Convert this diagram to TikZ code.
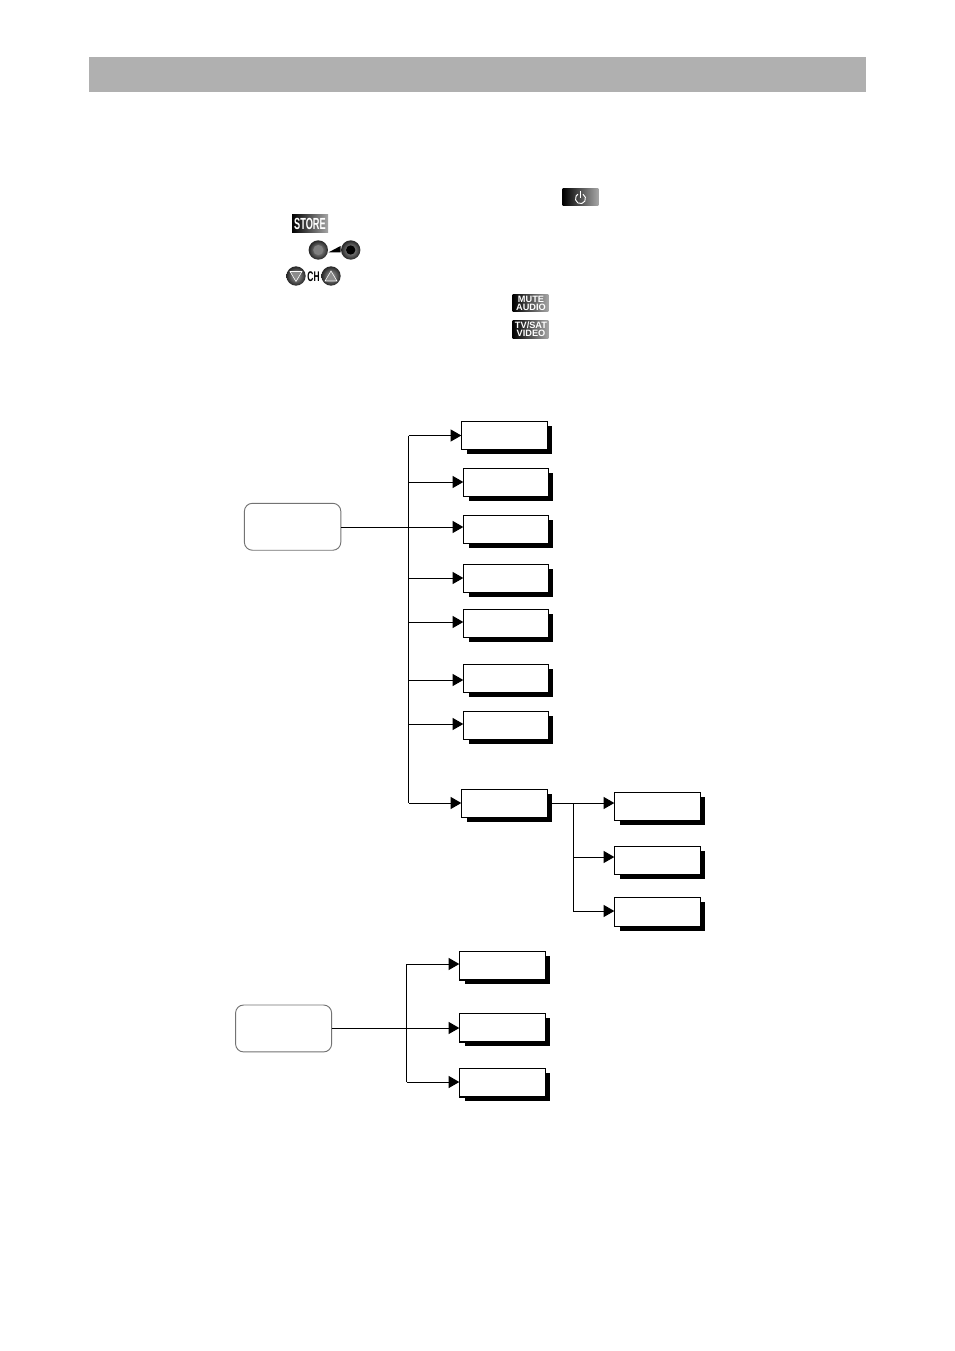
\documentclass[tikz,border=0pt]{standalone}
\usepackage{fontspec}
\setmainfont{Liberation Sans}
\usetikzlibrary{arrows.meta,shadings}
\definecolor{band}{HTML}{B0B0B0}
\tikzset{
  x=0.75pt,y=-0.75pt,
  conn/.style={line width=0.75pt,black},
  arr/.style={conn,-{Triangle[length=8pt,width=9pt]}},
  menubox/.style={draw=black,line width=0.85pt,fill=white,anchor=north west,inner sep=0pt,outer sep=0pt},
  rootbox/.style={draw=black!55,line width=0.7pt,fill=white,rounded corners=6pt,anchor=north west,inner sep=0pt,outer sep=0pt},
  keyicon/.style={left color=black,middle color=black!70,right color=black!35,draw=none,anchor=north west,inner sep=0pt,outer sep=0pt,text=white,font=\bfseries,align=center},
  icontext/.style={text=white,inner sep=0pt,align=center,font={\bfseries\fontsize{6.9}{6.2}\selectfont}},
  knob/.style={circle,inner color=black!35,outer color=black!85,draw=none,minimum size=14.5pt,inner sep=0pt},
}
% name, x1, y1, x2, y2 (reference pixels)
\newcommand{\menub}[5]{%
  \fill[black] (#2+5.5,#3+5) rectangle (#4+4.2,#5+4.2);
  \node[menubox,minimum width={(#4-#2)*0.75pt},minimum height={(#5-#3)*0.75pt}] (#1) at (#2,#3) {};
}
\begin{document}
\begin{tikzpicture}
\useasboundingbox (0,0) rectangle (954,1351);
\fill[white] (0,0) rectangle (954,1351);
\node[fill=band,anchor=north west,inner sep=0pt,minimum width=582.75pt,minimum height=26.25pt] (header) at (89,57) {};

% key icons
\node[keyicon,minimum width=26.7pt,minimum height=12.5pt] (power) at (562.7,189) {};
\draw[white,line width=0.7pt] (583,194.2) arc[start angle=60,end angle=-240,radius=3.8pt];
\draw[white,line width=0.7pt] (580.5,191.5) -- (580.5,198);
\node[keyicon,minimum width=27pt,minimum height=12.8pt] (store) at (292,215) {\scalebox{0.6}[1.05]{\fontsize{11.5}{11.5}\selectfont STORE}};
\node[knob] (vola) at (318.3,250) {};
\fill[black!50] (vola) circle (3.8pt);
\node[knob] (volb) at (350.7,250) {};
\fill[black] (volb) circle (3.5pt);
\fill[black] (328.3,252.5) -- (340.5,246) -- (340.5,252.5) -- cycle;
\node[knob] (chd) at (296,276) {};
\draw[fill=black!45,draw=white,line width=0.4pt] (290,271.5) -- (302,271.5) -- (296,281.5) -- cycle;
\node[knob] (chu) at (331,276) {};
\draw[fill=black!45,draw=white,line width=0.4pt] (325,281) -- (337,281) -- (331,271) -- cycle;
\node[font=\bfseries,inner sep=0pt] (chtxt) at (313.5,276.5) {\scalebox{0.6}[1]{\fontsize{10.5}{10.5}\selectfont CH}};
\node[keyicon,minimum width=26.7pt,minimum height=12.8pt] (mute) at (512.7,294.7) {};
\node[icontext] (mutetxt) at (531,303.2) {MUTE\\AUDIO};
\node[keyicon,minimum width=26.7pt,minimum height=13pt] (tvsat) at (512.7,320.8) {};
\node[icontext] (tvsattxt) at (531,329.4) {TV/SAT\\VIDEO};

% upper tree
\node[rootbox,minimum width=72.3pt,minimum height=35.2pt] (rootA) at (244.4,503.3) {};
\menub{a1}{461.3}{421.3}{547.7}{449.7}
\menub{a2}{463.3}{468.3}{548.7}{496.7}
\menub{a3}{463.3}{515.3}{548.7}{543.7}
\menub{a4}{463.3}{564.3}{548.7}{592.7}
\menub{a5}{463.3}{609.3}{548.7}{637.7}
\menub{a6}{463.3}{664.3}{548.7}{692.7}
\menub{a7}{463.3}{711.3}{548.7}{739.7}
\menub{a8}{461.3}{789.3}{547.7}{817.5}
\menub{s1}{614.3}{792.3}{700.7}{820.7}
\menub{s2}{614.3}{846.3}{700.7}{874.7}
\menub{s3}{614.3}{897.3}{700.7}{926.3}

\coordinate (t1) at (408.8,435.5);
\coordinate (t2) at (408.8,482);
\coordinate (t3) at (408.8,527);
\coordinate (t4) at (408.8,578);
\coordinate (t5) at (408.8,622);
\coordinate (t6) at (408.8,680);
\coordinate (t7) at (408.8,724);
\coordinate (t8) at (408.8,803);
\draw[conn] (t1) -- (t8);
\draw[arr] (t1) -- (a1.west |- t1);
\draw[arr] (t2) -- (a2.west |- t2);
\draw[arr] (rootA.east |- t3) -- (a3.west |- t3);
\draw[arr] (t4) -- (a4.west |- t4);
\draw[arr] (t5) -- (a5.west |- t5);
\draw[arr] (t6) -- (a6.west |- t6);
\draw[arr] (t7) -- (a7.west |- t7);
\draw[arr] (t8) -- (a8.west |- t8);

\coordinate (u1) at (573.3,803);
\coordinate (u2) at (573.3,857);
\coordinate (u3) at (573.3,911);
\draw[conn] (a8.east |- u1) -- (u1);
\draw[conn] (u1) -- (u3);
\draw[arr] (u1) -- (s1.west |- u1);
\draw[arr] (u2) -- (s2.west |- u2);
\draw[arr] (u3) -- (s3.west |- u3);

% lower tree
\node[rootbox,minimum width=72pt,minimum height=35.2pt] (rootB) at (235.6,1005) {};
\menub{b1}{459.3}{951.3}{545.7}{980}
\menub{b2}{459.3}{1013.3}{545.7}{1042}
\menub{b3}{459.3}{1068.3}{545.7}{1097}
\coordinate (v1) at (406.5,964);
\coordinate (v2) at (406.5,1028);
\coordinate (v3) at (406.5,1082);
\draw[conn] (v1) -- (v3);
\draw[arr] (v1) -- (b1.west |- v1);
\draw[arr] (rootB.east |- v2) -- (b2.west |- v2);
\draw[arr] (v3) -- (b3.west |- v3);
\end{tikzpicture}
\end{document}
